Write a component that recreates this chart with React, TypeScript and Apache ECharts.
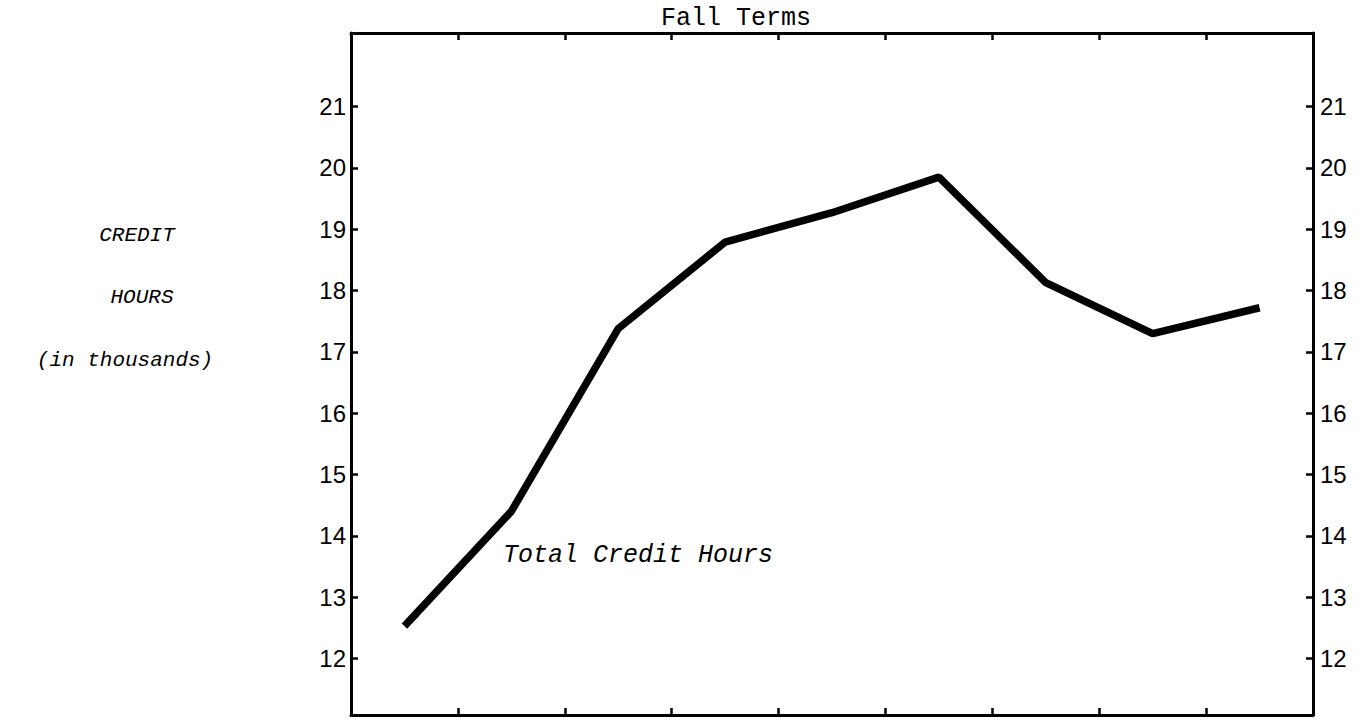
import React, { useEffect, useRef } from "react";
import * as echarts from "echarts";

const categories = ["Fall 1", "Fall 2", "Fall 3", "Fall 4", "Fall 5", "Fall 6", "Fall 7", "Fall 8", "Fall 9"];
const creditHours = [12.53, 14.4, 17.38, 18.79, 19.27, 19.85, 18.13, 17.3, 17.72];
const tickValues = [12, 13, 14, 15, 16, 17, 18, 19, 20, 21];
const titleText = "Fall Terms";
const seriesLabel = "Total Credit Hours";
const yAxisLines = ["CREDIT", "HOURS", "(in thousands)"];

export default function App() {
  const ref = useRef<HTMLDivElement>(null);
  useEffect(() => {
    if (!ref.current) return;
    const chart = echarts.init(ref.current, null, { renderer: "svg" });
    const axisLine = { show: true, onZero: false, lineStyle: { color: "#000", width: 3 } };
    const tick = { show: true, inside: true, length: 7, lineStyle: { color: "#000", width: 2.5 } };
    const xAxisBase = (position: string) => ({
      type: "category",
      data: categories,
      position,
      boundaryGap: true,
      axisLine,
      axisTick: tick,
      axisLabel: { show: false },
      splitLine: { show: false },
    });
    const yAxisBase = (position: string, margin: number) => ({
      type: "value",
      min: 11.08,
      max: 22.2,
      position,
      axisLine,
      axisTick: { ...tick, customValues: tickValues },
      axisLabel: {
        customValues: tickValues,
        fontFamily: "Liberation Sans",
        fontSize: 24,
        color: "#000",
        margin,
      },
      splitLine: { show: false },
    });
    const labelFont = 'italic 21px "Liberation Mono"';
    const labelX = [137, 142, 125];
    const labelY = [235, 297, 360];
    chart.setOption({
      animation: false,
      backgroundColor: "#fff",
      grid: { left: 351, right: 46, top: 33, bottom: 9, containLabel: false },
      xAxis: [xAxisBase("bottom"), xAxisBase("top")],
      yAxis: [yAxisBase("left", 5), yAxisBase("right", 7)],
      series: [
        {
          type: "line",
          name: seriesLabel,
          data: creditHours,
          xAxisIndex: 0,
          yAxisIndex: 0,
          symbol: "none",
          lineStyle: { color: "#000", width: 7.5 },
        },
      ],
      graphic: [
        {
          type: "text",
          x: 736,
          y: 18,
          style: { text: titleText, font: '25px "Liberation Mono"', fill: "#000", textAlign: "center", textVerticalAlign: "middle" },
        },
        {
          type: "text",
          x: 503,
          y: 555,
          style: { text: seriesLabel, font: 'italic 25px "Liberation Mono"', fill: "#000", textAlign: "left", textVerticalAlign: "middle" },
        },
        ...yAxisLines.map((t, i) => ({
          type: "text",
          x: labelX[i],
          y: labelY[i],
          style: { text: t, font: labelFont, fill: "#000", textAlign: "center", textVerticalAlign: "middle" },
        })),
      ],
    });
    return () => chart.dispose();
  }, []);
  return <div ref={ref} style={{ position: "absolute", left: 0, top: 0, width: 1359, height: 724 }} />;
}
